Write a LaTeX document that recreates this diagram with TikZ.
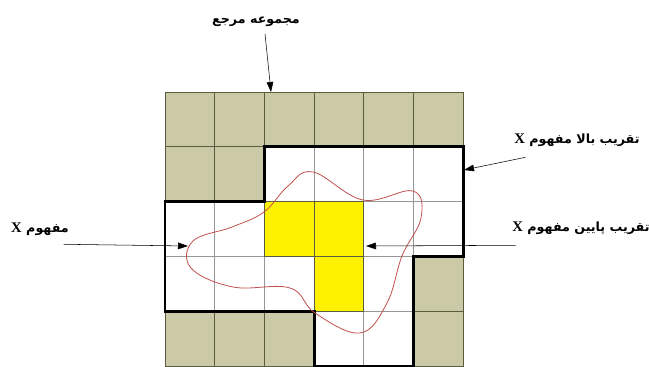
\documentclass[tikz,border=0pt]{standalone}
\usepackage{fontspec}
\usepackage{tikz}
\usetikzlibrary{arrows.meta,positioning,calc}
\usepackage{xcolor}
\TeXXeTstate=1
\newfontfamily\farsi[Script=Arabic]{DejaVu Sans}
\newfontfamily\latinx{Liberation Serif}
\definecolor{tancell}{RGB}{204,202,166}
\definecolor{tanline}{RGB}{90,92,64}
\definecolor{whiteline}{RGB}{150,150,150}
\definecolor{curvered}{RGB}{192,80,77}
\tikzset{
  lbl/.style={font=\farsi\bfseries\fontsize{9.5}{11}\selectfont, inner sep=2pt},
  arr/.style={-{Triangle[length=7.5pt,width=5pt]}, thin, black}
}
\newcommand{\xlat}{{\latinx\bfseries\fontsize{11}{11}\selectfont X}}

\begin{document}
\begin{tikzpicture}[x=0.75pt,y=-0.75pt]
    \useasboundingbox (0,0) rectangle (649,367);
    % grid of the universe
    \begin{scope}[shift={(165,92)}, xscale=49.7, yscale=54.8]
        \foreach \i in {0,...,5}
            \foreach \j in {0,...,4}
                \draw[whiteline, line width=0.5pt] (\i,\j) rectangle ++(1,1);
        % lower approximation
        \foreach \i/\j in {2/2,3/2,3/3}
            \filldraw[fill=yellow, draw=tanline, line width=0.5pt] (\i,\j) rectangle ++(1,1);
        % outside the upper approximation
        \foreach \i/\j in {0/0,1/0,2/0,3/0,4/0,5/0,0/1,1/1,5/3,0/4,1/4,2/4,5/4}
            \filldraw[fill=tancell, draw=tanline, line width=0.5pt] (\i,\j) rectangle ++(1,1);
        % upper approximation border
        \draw[line width=2.2pt, line join=miter] (2,1) -- (6,1) -- (6,3) -- (5,3) -- (5,5) -- (3,5)
            -- (3,4) -- (0,4) -- (0,2) -- (2,2) -- cycle;
    \end{scope}
    % concept X
    \draw[curvered, line width=0.6pt] plot[smooth cycle, tension=0.65] coordinates {
        (313,172) (363,200) (413,191) (421,218) (402,256) (387,303)
        (360,333) (315,313) (290,288) (233,287) (191,268) (193,241)
        (232,227) (264,212) (288,186)};
    % labels
    \node[lbl] (ref) at (256,22) {\beginR مجموعه مرجع\endR};
    \node[lbl] (upper) at (577,140) {\beginR تقریب بالا مفهوم \xlat\endR};
    \node[lbl] (lower) at (581,228) {\beginR تقریب پایین مفهوم \xlat\endR};
    \node[lbl] (concept) at (40,229) {\beginR مفهوم \xlat\endR};
    % arrow tips
    \coordinate (reftip) at (271,92);
    \coordinate (uppertip) at (464,170);
    \coordinate (lowertip) at (366,246);
    \coordinate (concepttip) at (188,246);
    \draw[arr] ([shift={(9,4)}]ref.south) -- (reftip);
    \draw[arr] ([shift={(14,8)}]upper.south west) -- (uppertip);
    \draw[arr] ([shift={(6,8)}]lower.south west) -- (lowertip);
    \draw[arr] ([shift={(-8,6)}]concept.south east) -- (concepttip);
\end{tikzpicture}
\end{document}
